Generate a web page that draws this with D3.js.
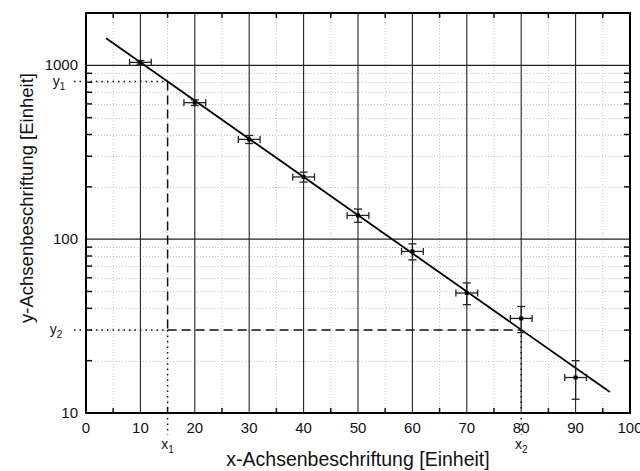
<!DOCTYPE html>
<html>
<head>
<meta charset="utf-8">
<script src="https://cdn.jsdelivr.net/npm/d3@7"></script>
<style>
  body { margin: 0; background: #fff; }
  text { font-family: "Liberation Sans", Arial, sans-serif; fill: #111; }
</style>
</head>
<body>
<div id="chart"></div>
<script>
// measured points
const xVals = [10, 20, 30, 40, 50, 60, 70, 80, 90];
const yVals = [1040, 610, 375, 228, 137, 85, 49, 35, 16];
const xErr = [2, 2, 2, 2, 2, 2, 2, 2, 2];
const yErr = [25, 23, 20, 15, 12, 9, 7, 6, 4];

// fitted line (end points)
const fitX = [3.7, 96.3];
const fitY = [1430, 13.2];

// slope triangle marks
const markX = [15, 80];
const markY = [807, 30];

const xTicks = [0, 10, 20, 30, 40, 50, 60, 70, 80, 90, 100];
const yTicks = [10, 100, 1000];

let width = 640, height = 471;
let margin = {top: 13, right: 10, bottom: 58, left: 86};

let svg = d3.select('#chart').append('svg')
    .attr('width', width)
    .attr('height', height);

let xScale = d3.scaleLinear().domain([0, 100]).range([margin.left, width - margin.right]);
let yScale = d3.scaleLog().domain([10, 2000]).range([height - margin.bottom, margin.top]);

let x0 = xScale(0), x1 = xScale(100), yb = yScale(10), yt = yScale(2000);

// minor grid
let minorX = d3.range(5, 100, 10);
let minorY = [];
[10, 100, 1000].forEach(d => { for (let k = 2; k <= 9; k++) if (d * k <= 2000) minorY.push(d * k); });

let grid = svg.append('g');
grid.selectAll('.mx').data(minorX).enter().append('line')
    .attr('x1', d => xScale(d)).attr('x2', d => xScale(d))
    .attr('y1', yb).attr('y2', yt)
    .attr('stroke', '#c4c4c4').attr('stroke-width', 1).attr('stroke-dasharray', '1,2');
grid.selectAll('.my').data(minorY.filter(d => d < 2000)).enter().append('line')
    .attr('x1', x0).attr('x2', x1)
    .attr('y1', d => Math.round(yScale(d)) + 0.5).attr('y2', d => Math.round(yScale(d)) + 0.5)
    .attr('stroke', '#c4c4c4').attr('stroke-width', 1).attr('stroke-dasharray', '1,2');

// major grid
grid.selectAll('.Mx').data(d3.range(10, 100, 10)).enter().append('line')
    .attr('x1', d => xScale(d)).attr('x2', d => xScale(d))
    .attr('y1', yb).attr('y2', yt)
    .attr('stroke', '#222').attr('stroke-width', 1.1);
grid.selectAll('.My').data([100, 1000]).enter().append('line')
    .attr('x1', x0).attr('x2', x1)
    .attr('y1', d => yScale(d)).attr('y2', d => yScale(d))
    .attr('stroke', '#222').attr('stroke-width', 1.1);

// inward ticks
let ticks = svg.append('g').attr('stroke', '#111').attr('stroke-width', 1.5);
minorX.forEach(d => {
    ticks.append('line').attr('x1', xScale(d)).attr('x2', xScale(d)).attr('y1', yb).attr('y2', yb - 5);
    ticks.append('line').attr('x1', xScale(d)).attr('x2', xScale(d)).attr('y1', yt).attr('y2', yt + 5);
});
minorY.forEach(d => {
    ticks.append('line').attr('x1', x0).attr('x2', x0 + 6).attr('y1', yScale(d)).attr('y2', yScale(d));
    ticks.append('line').attr('x1', x1).attr('x2', x1 - 6).attr('y1', yScale(d)).attr('y2', yScale(d));
});

// slope triangle
let guide = svg.append('g').attr('fill', 'none').attr('stroke', '#111').attr('stroke-width', 1.5);
// dotted projections
guide.append('line').attr('x1', x0 - 12).attr('x2', xScale(markX[0]))
    .attr('y1', yScale(markY[0])).attr('y2', yScale(markY[0])).attr('stroke-dasharray', '1.5,4');
guide.append('line').attr('x1', x0 - 12).attr('x2', xScale(markX[0]))
    .attr('y1', yScale(markY[1])).attr('y2', yScale(markY[1])).attr('stroke-dasharray', '1.5,4');
guide.append('line').attr('x1', xScale(markX[0])).attr('x2', xScale(markX[0]))
    .attr('y1', yScale(markY[1])).attr('y2', yb + 22).attr('stroke-dasharray', '1.5,4');
guide.append('line').attr('x1', xScale(markX[1])).attr('x2', xScale(markX[1]))
    .attr('y1', yScale(markY[1])).attr('y2', yb + 22).attr('stroke-dasharray', '1.5,4');
// dashed legs
guide.append('line').attr('x1', xScale(markX[0])).attr('x2', xScale(markX[0]))
    .attr('y1', yScale(markY[0])).attr('y2', yScale(markY[1])).attr('stroke-dasharray', '9,5');
guide.append('line').attr('x1', xScale(markX[0])).attr('x2', xScale(markX[1]))
    .attr('y1', yScale(markY[1])).attr('y2', yScale(markY[1])).attr('stroke-dasharray', '9,5');

// fit line
svg.append('line')
    .attr('x1', xScale(fitX[0])).attr('y1', yScale(fitY[0]))
    .attr('x2', xScale(fitX[1])).attr('y2', yScale(fitY[1]))
    .attr('stroke', '#000').attr('stroke-width', 1.8);

// error bars
let pts = xVals.map((d, i) => ({x: d, y: yVals[i], ex: xErr[i], ey: yErr[i]}));
let eb = svg.append('g').attr('stroke', '#222').attr('stroke-width', 1.3);
pts.forEach(p => {
    let cx = xScale(p.x), cy = yScale(p.y);
    let xl = xScale(p.x - p.ex), xr = xScale(p.x + p.ex);
    let yu = yScale(p.y + p.ey), yd = yScale(p.y - p.ey);
    eb.append('line').attr('x1', xl).attr('x2', xr).attr('y1', cy).attr('y2', cy);
    eb.append('line').attr('x1', xl).attr('x2', xl).attr('y1', cy - 3.5).attr('y2', cy + 3.5);
    eb.append('line').attr('x1', xr).attr('x2', xr).attr('y1', cy - 3.5).attr('y2', cy + 3.5);
    eb.append('line').attr('x1', cx).attr('x2', cx).attr('y1', yu).attr('y2', yd);
    eb.append('line').attr('x1', cx - 4).attr('x2', cx + 4).attr('y1', yu).attr('y2', yu);
    eb.append('line').attr('x1', cx - 4).attr('x2', cx + 4).attr('y1', yd).attr('y2', yd);
});
svg.selectAll('.pt').data(pts).enter().append('rect')
    .attr('x', d => xScale(d.x) - 2).attr('y', d => yScale(d.y) - 2)
    .attr('width', 4).attr('height', 4).attr('fill', '#000');

// frame
svg.append('rect')
    .attr('x', x0).attr('y', yt)
    .attr('width', x1 - x0).attr('height', yb - yt)
    .attr('fill', 'none').attr('stroke', '#000').attr('stroke-width', 2);

// tick labels
svg.selectAll('.xl').data(xTicks).enter().append('text')
    .attr('x', d => xScale(d)).attr('y', yb + 20)
    .attr('text-anchor', 'middle').attr('font-size', 15)
    .text(d => d);
svg.selectAll('.yl').data(yTicks).enter().append('text')
    .attr('x', x0 - 8).attr('y', d => yScale(d) + 5)
    .attr('text-anchor', 'end').attr('font-size', 15)
    .text(d => d);

// triangle labels
function subLabel(x, y, base, sub) {
    let t = svg.append('text').attr('x', x).attr('y', y).attr('font-size', 14).attr('text-anchor', 'middle');
    t.append('tspan').text(base);
    t.append('tspan').attr('dy', 4).attr('font-size', 10).text(sub);
}
subLabel(59, yScale(markY[0]) + 4, 'y', '1');
subLabel(56, yScale(markY[1]) + 4, 'y', '2');
subLabel(xScale(markX[0]), yb + 36, 'x', '1');
subLabel(xScale(markX[1]), yb + 36, 'x', '2');

// axis titles
svg.append('text')
    .attr('x', (x0 + x1) / 2).attr('y', 466)
    .attr('text-anchor', 'middle').attr('font-size', 19.5)
    .text('x-Achsenbeschriftung [Einheit]');
svg.append('text')
    .attr('transform', 'translate(33,198) rotate(-90)')
    .attr('text-anchor', 'middle').attr('font-size', 18.5)
    .text('y-Achsenbeschriftung [Einheit]');
</script>
</body>
</html>
